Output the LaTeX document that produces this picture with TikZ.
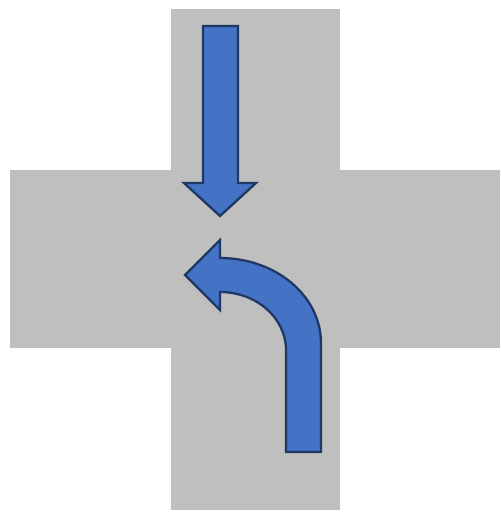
\documentclass[tikz,border=0pt]{standalone}
\usepackage{tikz}
\definecolor{roadgray}{HTML}{BFBFBF}
\definecolor{arrowblue}{HTML}{4472C4}
\definecolor{arrowedge}{HTML}{1F3864}

\begin{document}
\begin{tikzpicture}[
  x=0.02cm, y=-0.02cm,
  road/.style={fill=roadgray, draw=none},
  blockarrow/.style={fill=arrowblue, draw=arrowedge, line width=1.3pt, line join=miter},
]
  \useasboundingbox (0,0) rectangle (501,512);
  % crossing
  \fill[road] (171,9) rectangle (340,510);
  \fill[road] (10,170) rectangle (500,348);
  % straight on
  \draw[blockarrow] (203,26) -- (238,26) -- (238,183) -- (256,183) -- (220,216)
    -- (184,183) -- (203,183) -- cycle;
  % left turn
  \draw[blockarrow] (321,452) -- (321,343) .. controls (321,296) and (276,258) .. (220,258)
    -- (220,240) -- (185,275) -- (220,310) -- (220,292)
    .. controls (256.5,292) and (286,318) .. (286,350) -- (286,452) -- cycle;
\end{tikzpicture}
\end{document}
